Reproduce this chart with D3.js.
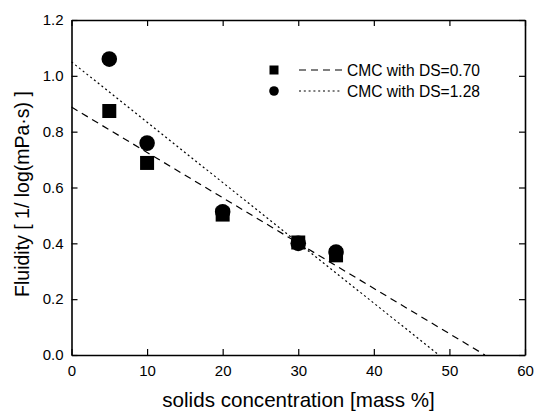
<!DOCTYPE html>
<html>
<head>
<meta charset="utf-8">
<script src="https://cdn.jsdelivr.net/npm/d3@7"></script>
<style>
  body { margin: 0; background: #fff; }
  text { font-family: "Liberation Sans", Arial, sans-serif; fill: #000; }
</style>
</head>
<body>
<div id="my_dataviz"></div>
<script>
// measured points
var concentration = [5, 10, 20, 30, 35];
var fluidityDS070 = [0.874, 0.688, 0.503, 0.403, 0.357];
var fluidityDS128 = [1.060, 0.759, 0.513, 0.400, 0.369];

// fitted lines (end points)
var fitX_DS070 = [0, 54.7];
var fitY_DS070 = [0.888, 0];
var fitX_DS128 = [0, 48.6];
var fitY_DS128 = [1.050, 0];

var xTicks = [0, 10, 20, 30, 40, 50, 60];
var yTicks = [0.0, 0.2, 0.4, 0.6, 0.8, 1.0, 1.2];
var legendLabels = ["CMC with DS=0.70", "CMC with DS=1.28"];

var margin = {top: 20, right: 9, bottom: 57, left: 71.5},
    width = 534 - margin.left - margin.right,
    height = 412 - margin.top - margin.bottom;

var svg = d3.select("#my_dataviz")
  .append("svg")
    .attr("width", width + margin.left + margin.right)
    .attr("height", height + margin.top + margin.bottom)
  .append("g")
    .attr("transform", "translate(" + margin.left + "," + margin.top + ")");

var x = d3.scaleLinear().domain([0, 60]).range([0, width]);
var y = d3.scaleLinear().domain([0, 1.2]).range([height, 0]);

// axes, ticks pointing inward
var xAxis = svg.append("g")
  .attr("transform", "translate(0," + height + ")")
  .call(d3.axisBottom(x).tickValues(xTicks).tickSizeInner(-6).tickSizeOuter(0).tickPadding(10).tickFormat(d3.format("d")));
var yAxis = svg.append("g")
  .call(d3.axisLeft(y).tickValues(yTicks).tickSizeInner(-6).tickSizeOuter(0).tickPadding(8).tickFormat(d3.format(".1f")));
var xTop = svg.append("g")
  .call(d3.axisTop(x).tickValues(xTicks).tickSizeInner(-6).tickSizeOuter(0).tickFormat(""));
var yRight = svg.append("g")
  .attr("transform", "translate(" + width + ",0)")
  .call(d3.axisRight(y).tickValues(yTicks).tickSizeInner(-6).tickSizeOuter(0).tickFormat(""));

[xAxis, yAxis, xTop, yRight].forEach(function(a) {
  a.select(".domain").attr("stroke", "#000").attr("stroke-width", 1.6);
  a.selectAll(".tick line").attr("stroke", "#000").attr("stroke-width", 1.2);
  a.selectAll("text").style("font-size", "15px").style("font-family", "Liberation Sans, Arial, sans-serif").attr("fill", "#000");
});

// axis titles
svg.append("text")
  .attr("x", (160 + 437) / 2 - margin.left)
  .attr("y", height + 52)
  .attr("text-anchor", "middle")
  .style("font-size", "20.6px")
  .text("solids concentration [mass %]");

svg.append("text")
  .attr("transform", "translate(" + (-margin.left + 29) + "," + (194 - margin.top) + ") rotate(-90)")
  .attr("text-anchor", "middle")
  .style("font-size", "19.5px")
  .text("Fluidity [ 1/ log(mPa\u00b7s) ]");

// fit lines
var fits = [
  {xs: fitX_DS070, ys: fitY_DS070, dash: "7,5"},
  {xs: fitX_DS128, ys: fitY_DS128, dash: "2,2.8"}
];
var line = d3.line()
  .x(function(d) { return x(d[0]); })
  .y(function(d) { return y(d[1]); });
svg.selectAll("myFits")
  .data(fits)
  .enter()
  .append("path")
    .attr("d", function(d) { return line(d3.zip(d.xs, d.ys)); })
    .attr("stroke", "#000")
    .style("stroke-width", 1.2)
    .style("stroke-dasharray", function(d) { return d.dash; })
    .style("fill", "none");

// points
var sq = 14;
svg.selectAll("mySquares")
  .data(d3.zip(concentration, fluidityDS070))
  .enter()
  .append("rect")
    .attr("x", function(d) { return x(d[0]) - sq / 2; })
    .attr("y", function(d) { return y(d[1]) - sq / 2; })
    .attr("width", sq)
    .attr("height", sq)
    .attr("fill", "#000");

svg.selectAll("myCircles")
  .data(d3.zip(concentration, fluidityDS128))
  .enter()
  .append("circle")
    .attr("cx", function(d) { return x(d[0]); })
    .attr("cy", function(d) { return y(d[1]); })
    .attr("r", 7.8)
    .attr("fill", "#000");

// legend
var lg = svg.append("g").attr("transform", "translate(" + (274 - margin.left) + "," + (70 - margin.top) + ")");
lg.append("rect").attr("x", -4.5).attr("y", -4.5).attr("width", 9).attr("height", 9).attr("fill", "#000");
lg.append("circle").attr("cx", 0).attr("cy", 21).attr("r", 4.8).attr("fill", "#000");
lg.selectAll("legendLines")
  .data(fits)
  .enter()
  .append("line")
    .attr("x1", 25).attr("x2", 68)
    .attr("y1", function(d, i) { return i * 21; })
    .attr("y2", function(d, i) { return i * 21; })
    .attr("stroke", "#000")
    .style("stroke-width", 1.2)
    .style("stroke-dasharray", function(d) { return d.dash; });
lg.selectAll("legendText")
  .data(legendLabels)
  .enter()
  .append("text")
    .attr("x", 73)
    .attr("y", function(d, i) { return i * 21 + 6; })
    .style("font-size", "15.6px")
    .text(function(d) { return d; });
</script>
</body>
</html>
